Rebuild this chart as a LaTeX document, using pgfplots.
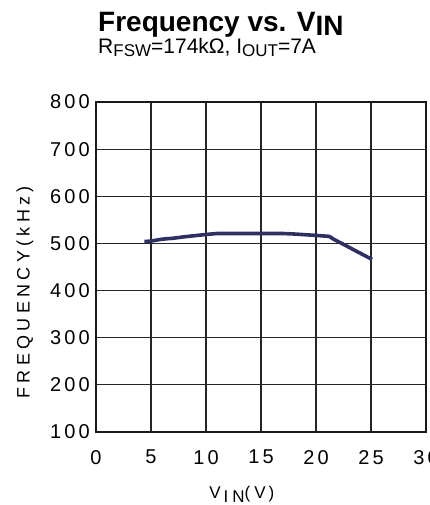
\documentclass[border=0pt]{standalone}
\usepackage{fontspec}
\setmainfont{Liberation Sans}
\newfontfamily\spaced[LetterSpace=24]{Liberation Sans}
\newfontfamily\tickfont[LetterSpace=16]{Liberation Sans}
\usepackage{pgfplots}
\pgfplotsset{compat=1.18}
\definecolor{curve}{RGB}{46,48,98}
\begin{document}
\begin{tikzpicture}
\useasboundingbox (-96pt,-73pt) rectangle (333pt,432pt);
\node[anchor=base west, inner sep=0pt] at (2pt,400pt)
  {\fontsize{28}{28}\selectfont\bfseries Frequency vs. V\raisebox{-4pt}{IN}};
\node[anchor=base west, inner sep=0pt] at (2pt,378pt)
  {\fontsize{21}{21}\selectfont R\raisebox{-3pt}{\fontsize{17}{17}\selectfont FSW}=174kΩ, I\raisebox{-3pt}{\fontsize{17}{17}\selectfont OUT}=7A};
\begin{axis}[
  at={(0pt,0pt)}, anchor=south west,
  scale only axis, width=330pt, height=330pt,
  xmin=0, xmax=30, ymin=100, ymax=800,
  xtick={0,5,...,30}, ytick={100,200,...,800},
  grid=major,
  major grid style={line width=1.1pt, color=black!85},
  axis line style={line width=2pt, color=black!90},
  major tick length=0pt,
  /pgf/number format/assume math mode=true,
  ticklabel style={font=\tickfont\fontsize{20}{20}\selectfont, inner sep=0pt},
  xticklabel style={yshift=-18pt},
  yticklabel style={xshift=-6pt},
  xlabel={V\,\raisebox{-4pt}{IN}(V\,)},
  xlabel style={font=\spaced\fontsize{17}{17}\selectfont, at={(axis description cs:0.442,0)}, anchor=base, yshift=-66pt, inner sep=0pt},
  ylabel={FREQUENCY(kHz)},
  ylabel style={font=\spaced\fontsize{18}{18}\selectfont, at={(axis description cs:-0.215,0.423)}, anchor=center, inner sep=0pt},
]
\addplot[curve, line width=3.6pt, line join=round] coordinates {
(4.4,504) (5,505) (6,509) (7,511) (8,514) (10,519) (11,521)
(17,521) (18,520) (20,517) (21.2,515) (21.6,509) (25.1,466)
};
\end{axis}
\end{tikzpicture}
\end{document}
